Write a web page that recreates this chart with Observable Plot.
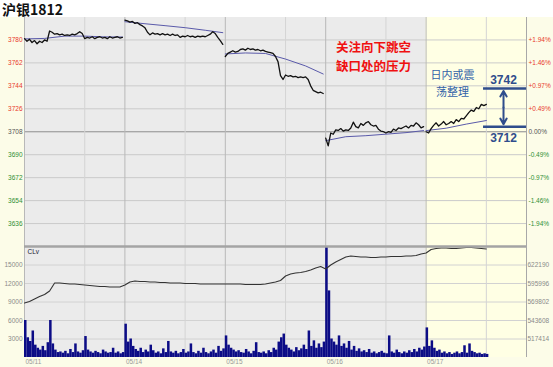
<!DOCTYPE html>
<html><head><meta charset="utf-8">
<script src="https://cdn.jsdelivr.net/npm/d3@7"></script>
<script src="https://cdn.jsdelivr.net/npm/@observablehq/plot@0.6"></script>
<style>
html,body{margin:0;padding:0;background:#fff;}
#wrap{position:relative;width:553px;height:367px;overflow:hidden;background:#fff;}
#title{position:absolute;left:2px;top:0px;font:bold 14px "Noto Sans CJK SC",sans-serif;color:#111;line-height:19px;}
#bg{position:absolute;left:0;top:17px;width:553px;height:350px;background:#fcfce8;}
#price{position:absolute;left:0;top:17px;}
#vol{position:absolute;left:0;top:246px;}
</style></head><body>
<div id="wrap"><div id="bg"></div><div id="title">沪银1812</div><div id="price"></div><div id="vol"></div></div>
<script>
// ---------- data ----------
const sessions = ["05/11","05/14","05/15","05/16","05/17"];
const priceTicks = [3780,3762,3744,3726,3708,3690,3672,3654,3636];
const pctLabels = ["+1.94%","+1.46%","+0.97%","+0.49%","0.00%","-0.49%","-0.97%","-1.46%","-1.94%"];
const refPrice = 3708;
const volTicks = [3000,6000,9000,12000,15000];
const oiLabels = ["517414","543608","569802","595996","622190"];

// price (close) per session, 40 samples per full session
const price0 = [3781,3779,3780.5,3778,3779.5,3777,3779,3778,3780,3779,3787,3786,3784.5,3785,3784,3784.5,3783.5,3784,3783.5,3784.5,3784,3785,3786.5,3785,3781,3782,3781.5,3782.5,3781,3782,3782.5,3781.5,3782,3781,3782.5,3781.5,3782,3782.5,3781.5,3782];
const price1 = [3795.5,3795,3794,3794.5,3793,3793.5,3792,3791,3789.5,3786,3784,3785.5,3784.5,3785,3784,3785,3784,3784.5,3783.5,3784.5,3783.5,3784,3782,3783,3782.5,3783.5,3782.5,3783,3782,3783,3782.5,3783,3782.5,3783.5,3784.5,3786.5,3785,3782,3779.5,3776.5];
const price2 = [3767,3769.5,3770.5,3771.5,3770.5,3771,3772.5,3773,3772,3773.5,3772.5,3773,3772,3772.5,3771.5,3772,3771,3770.5,3770,3769.5,3767,3763,3752,3749,3752.5,3751.5,3752,3751,3751.5,3750.5,3751,3750.5,3751,3749,3744,3740.5,3739.5,3738.5,3739,3738];
const price3 = [3703,3697,3707,3706,3709.5,3709,3710.5,3708.5,3709.5,3709,3711,3715.5,3712,3711,3714.5,3713,3715,3716,3713.5,3712.5,3713,3710,3708.5,3708,3707,3708,3707.5,3710,3709,3711,3710.5,3711.5,3712.5,3711,3713,3712.5,3715,3713.5,3711,3712];
const price4 = [3708,3707,3710.5,3713,3715,3712.5,3714,3716,3713.5,3714.5,3716,3714.5,3717.5,3716,3718.5,3718,3720.5,3723,3725,3724,3727,3726,3729.5,3728.5,3729.5];

// average price line, sampled at session fractions avgFrac
const avgFrac = [0,0.2,0.4,0.6,0.8,0.975];
const avg0 = [3780.8,3781.2,3783,3783,3782.4,3782.3];
const avg1 = [3794.3,3792.7,3791.2,3789.6,3787.6,3785.7];
const avg2 = [3769,3769.8,3769.4,3765,3759.6,3753.3];
const avg3 = [3701,3704.1,3704.9,3706.1,3707.3,3708.9];
const avg4 = [3708.9,3710.8,3714,3716.8];

// volume, 40 samples per session
const vol0 = [6000,3200,2600,4300,2000,1500,1200,1800,1100,2400,6000,2200,1200,800,900,700,1000,600,1300,800,2200,900,700,1100,3400,1200,900,700,1000,800,600,1200,900,700,800,1500,700,900,600,800];
const vol1 = [5400,2500,3000,1800,1300,1000,1500,800,1200,900,2000,1100,700,900,600,1400,800,2600,900,700,1000,600,800,1300,700,900,2200,800,600,1000,700,1500,800,600,900,1200,700,1800,1000,1400];
const vol2 = [3500,2000,1500,1200,900,1100,800,700,1300,900,600,1000,2400,800,700,900,600,1100,800,1500,1200,2500,3200,3800,2000,1500,1200,900,1600,1100,1400,2000,1300,4300,1800,2700,1500,2200,1600,2500];
const vol3 = [18500,10800,3000,2500,2000,3500,1800,2200,1500,2600,1200,1800,1000,1400,900,1100,800,1300,700,900,600,800,1000,700,600,3500,900,700,1200,800,600,900,700,1100,800,1300,900,1500,1200,1700];
const vol4 = [4800,1800,2700,1500,1000,1200,700,900,600,800,500,700,900,600,800,1900,700,2200,1000,800,600,700,500,600,500];

// open interest, 20 samples per session
const oi0 = [568400,570500,574100,577600,580400,585400,596700,596700,596000,595300,595300,594600,593900,593200,592500,591700,591700,591000,591000,591000];
const oi1 = [593900,598100,599500,598800,598800,598100,598100,597400,597400,596700,596700,596700,596000,596000,596000,595300,595300,595300,595300,595300];
const oi2 = [595300,595300,595300,595300,594600,594600,594600,594600,595300,596700,598100,600200,606600,609400,610900,611600,613000,615100,618000,620100];
const oi3 = [616500,622200,626400,630000,633500,634900,634200,633500,633500,632800,632800,633500,633500,634200,634200,634200,634900,634900,635600,637800];
const oi4 = [639200,644100,645600,646300,646300,645600,645600,646300,647000,647000,646300,645600,644800];

const annotLevels = [3742, 3712];
const noteRed = "关注向下跳空\n缺口处的压力";
const noteBlue = "日内或震\n荡整理";

// ---------- build ----------
const STEP = 1/40;
const nS = sessions.length;
const priceRows = [price0,price1,price2,price3,price4].flatMap((a,d)=>a.map((p,i)=>({t:d+i*STEP,p,d})));
const avgRows = [avg0,avg1,avg2,avg3,avg4].flatMap((a,d)=>a.map((p,i)=>({t:d+avgFrac[i],p,d})));
const volRows = [vol0,vol1,vol2,vol3,vol4].flatMap((a,d)=>a.map((v,i)=>({t:d+i*STEP,v})));
const oiRows = [oi0,oi1,oi2,oi3,oi4].flatMap((a,d)=>a.map((v,i)=>({t:d+i/20,v})));
const oiBase = +oiLabels[0], oiStep = oiLabels[1]-oiLabels[0];
const oiToVol = v => volTicks[0] + (v-oiBase)/oiStep*(volTicks[1]-volTicks[0]);

const dayIdx = sessions.map((s,i)=>i);
const midIdx = sessions.map((s,i)=>i+0.6);
const tickObjs = priceTicks.map((v,i)=>({v,pct:pctLabels[i]}));
const up = tickObjs.filter(d=>d.v>refPrice), flat = tickObjs.filter(d=>d.v===refPrice), dn = tickObjs.filter(d=>d.v<refPrice);
const RED="#e8382c", GREEN="#2f8f35", GREY="#555";
const FONT = "'Liberation Sans', Arial, sans-serif";
const CJK = "'Noto Sans CJK SC', sans-serif";
const common = {width:553, marginLeft:24, marginRight:27, x:{domain:[0,nS], axis:null}};
const bgMarks = [
  Plot.rect([[0,nS-1]], {x1:d=>d[0], x2:d=>d[1], fill:"#ebebeb"}),
  Plot.rect([[nS-1,nS]], {x1:d=>d[0], x2:d=>d[1], fill:"#ffffe4"}),
];
const tl = (data, opts) => Plot.text(data, {fontSize:6.5, fontFamily:FONT, ...opts});
const splitLines = s => s.split("\n").map((line,i)=>({line,i}));

const pricePlot = Plot.plot({
  ...common, height:229, marginTop:0, marginBottom:0,
  y:{domain:[3618,3797.6], axis:null},
  style:{background:"transparent", overflow:"visible", fontFamily:FONT},
  marks:[
    ...bgMarks,
    Plot.ruleY(priceTicks, {stroke:"#cbcbcb"}),
    Plot.ruleY([refPrice], {stroke:"#9a9a9a"}),
    Plot.ruleX(midIdx, {stroke:"#d4d4d4"}),
    Plot.ruleX(dayIdx, {stroke:"#b8b8b8"}),
    Plot.ruleX([nS], {stroke:"#a8a8a8"}),
    Plot.line(avgRows, {x:"t", y:"p", z:"d", stroke:"#5a5aaa", strokeWidth:1}),
    Plot.line(priceRows, {x:"t", y:"p", z:"d", stroke:"#111", strokeWidth:1.3}),
    tl(up, {y:"v", text:d=>String(d.v), frameAnchor:"left", textAnchor:"end", dx:-2, fill:RED}),
    tl(flat, {y:"v", text:d=>String(d.v), frameAnchor:"left", textAnchor:"end", dx:-2, fill:GREY}),
    tl(dn, {y:"v", text:d=>String(d.v), frameAnchor:"left", textAnchor:"end", dx:-2, fill:GREEN}),
    tl(up, {y:"v", text:"pct", frameAnchor:"right", textAnchor:"start", dx:2, fill:RED}),
    tl(flat, {y:"v", text:"pct", frameAnchor:"right", textAnchor:"start", dx:2, fill:GREY}),
    tl(dn, {y:"v", text:"pct", frameAnchor:"right", textAnchor:"start", dx:2, fill:GREEN}),
    Plot.text(splitLines(noteRed), {x:3.476, y:d=>3774 - d.i*14.9, text:"line", fontSize:12.5, fontWeight:"bold", fill:"#f01010", fontFamily:CJK, lineAnchor:"middle"}),
    Plot.text(splitLines(noteBlue), {x:4.263, y:d=>3752.1 - d.i*13.4, text:"line", fontSize:11, fill:"#3262a8", fontFamily:CJK, lineAnchor:"middle"}),
    Plot.ruleY(annotLevels, {x1:4.572, x2:nS, stroke:"#2f4d8c", strokeWidth:2.5}),
    Plot.arrow([annotLevels[0], annotLevels[1]], {x1:4.771, x2:4.771, y1:(annotLevels[0]+annotLevels[1])/2, y2:d=>d, stroke:"#2f4d8c", strokeWidth:2, headLength:7, insetEnd:2.5}),
    Plot.text(annotLevels, {x:4.771, y:(d,i)=> i===0 ? d+6.7 : d-8.7, text:d=>String(d), fontSize:12, fontWeight:"bold", fill:"#2f4d8c", fontFamily:FONT, lineAnchor:"middle"}),
  ]
});
document.getElementById("price").appendChild(pricePlot);

const volPlot = Plot.plot({
  ...common, height:121, marginTop:0, marginBottom:10,
  y:{domain:[0,18000], axis:null},
  style:{background:"transparent", overflow:"visible", fontFamily:FONT},
  marks:[
    ...bgMarks,
    Plot.ruleY(volTicks, {stroke:"#d2d2d2"}),
    Plot.ruleX(midIdx, {stroke:"#d4d4d4"}),
    Plot.ruleX(dayIdx, {stroke:"#b8b8b8"}),
    Plot.ruleX([nS], {stroke:"#a8a8a8"}),
    Plot.rectY(volRows, {x1:"t", x2:d=>d.t+STEP, y:"v", fill:"#0c0c86", clip:true}),
    Plot.line(oiRows, {x:"t", y:d=>oiToVol(d.v), stroke:"#333", strokeWidth:1.1, clip:true}),
    Plot.ruleY([18000], {stroke:"#a4a4a4", strokeWidth:2.5}),
    tl(volTicks, {y:d=>d, text:d=>String(d), frameAnchor:"left", textAnchor:"end", dx:-2, fill:"#8a8a8a"}),
    tl(volTicks, {y:d=>d, text:(d,i)=>oiLabels[i], frameAnchor:"right", textAnchor:"start", dx:1, fill:"#8a8a8a"}),
    tl(["CLv"], {frameAnchor:"top-left", textAnchor:"start", lineAnchor:"top", dx:3, dy:3, text:d=>d, fill:"#223", fontSize:6.5}),
    tl(sessions, {x:(d,i)=>i, text:d=>d, frameAnchor:"bottom", textAnchor:"start", lineAnchor:"top", dx:1, dy:1.5, fill:"#999"}),
  ]
});
document.getElementById("vol").appendChild(volPlot);
</script>
</body></html>
